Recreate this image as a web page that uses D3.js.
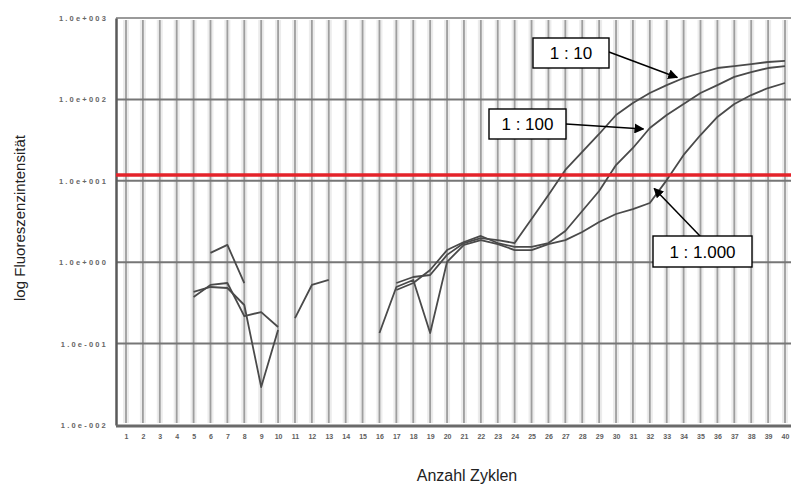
<!DOCTYPE html>
<html>
<head>
<meta charset="utf-8">
<script src="https://cdn.jsdelivr.net/npm/d3@7"></script>
<style>
  html, body { margin: 0; padding: 0; background: #fff; }
  svg { display: block; }
</style>
</head>
<body>
<svg id="chart" width="791" height="485"></svg>
<script>
// PCR cycles 1..40
const cycles = d3.range(1, 41);

// Fluorescence per cycle for each dilution (null = no reading)
const dil10 = [null, null, null, null, 0.374, 0.525, 0.555, 0.218, 0.244, 0.160,
  null, null, null, null, null, null, 0.555, 0.658, 0.696, 1.23,
  1.72, 1.98, 1.87, 1.72, 3.39, 6.69, 13.6, 22.6, 37.6, 64.3,
  90.3, 120, 150, 183, 211, 243, 257, 272, 288, 297];

const dil100 = [null, null, null, null, 0.431, 0.496, 0.482, 0.298, 0.0293, 0.147,
  null, null, null, null, null, null, 0.456, 0.555, 0.802, 1.41,
  1.77, 2.10, 1.72, 1.54, 1.54, 1.72, 2.42, 4.26, 7.49, 15.6,
  25.3, 44.5, 64.3, 87.8, 120, 150, 189, 217, 243, 257];

const dil1000 = [null, null, null, null, null, 1.30, 1.63, 0.555, null, null,
  0.206, 0.525, 0.605, null, null, 0.135, 0.496, 0.605, 0.135, 1.01,
  1.63, 1.87, 1.67, 1.41, 1.41, 1.67, 1.87, 2.35, 3.12, 3.91,
  4.50, 5.34, 10.2, 20.8, 36.5, 60.8, 87.8, 113, 138, 159];

const seriesNames = ["1 : 10", "1 : 100", "1 : 1.000"];
const seriesValues = [dil10, dil100, dil1000];

// Threshold line
const threshold = 11.8;

// Y tick values and their labels
const yTicks = [0.01, 0.1, 1, 10, 100, 1000];
const yTickLabels = ["1.0e-002", "1.0e-001", "1.0e+000", "1.0e+001", "1.0e+002", "1.0e+003"];

// Label callouts: which series, which cycle the arrow points at
const callouts = [
  { series: 0, cycle: 33.8, box: [533, 38, 76, 30], from: [609, 52], dx: -3, dy: -2 },
  { series: 1, cycle: 31.8, box: [489, 109, 77, 30], from: [566, 124], dx: -3, dy: -3 },
  { series: 2, cycle: 32.2, box: [653, 236, 99, 31], from: [700, 236], dx: 1, dy: -10 }
];

const svg = d3.select("#chart");
const plot = { left: 116, right: 791, top: 18, bottom: 425 };

const x = d3.scaleLinear().domain([1, 40]).range([126, 785]);
const y = d3.scaleLog().domain([0.01, 1000]).range([plot.bottom, plot.top]);

// vertical grid, one line per cycle (soft band + line)
const gv = svg.append("g");
gv.selectAll("line.band")
  .data(cycles)
  .join("line")
  .attr("class", "band")
  .attr("x1", d => x(d)).attr("x2", d => x(d))
  .attr("y1", plot.top + 2).attr("y2", plot.bottom - 2)
  .attr("stroke", "#ececec")
  .attr("stroke-width", 6);
gv.selectAll("line.grid")
  .data(cycles)
  .join("line")
  .attr("class", "grid")
  .attr("x1", d => x(d)).attr("x2", d => x(d))
  .attr("y1", plot.top + 2).attr("y2", plot.bottom - 2)
  .attr("stroke", "#9e9e9e")
  .attr("stroke-width", 1.8);

// horizontal decade grid
svg.append("g")
  .selectAll("line")
  .data(yTicks.slice(1, -1))
  .join("line")
  .attr("x1", plot.left).attr("x2", plot.right)
  .attr("y1", d => y(d)).attr("y2", d => y(d))
  .attr("stroke", "#767676")
  .attr("stroke-width", 2);

// top border
svg.append("line")
  .attr("x1", plot.left).attr("x2", plot.right)
  .attr("y1", plot.top).attr("y2", plot.top)
  .attr("stroke", "#9a9a9a").attr("stroke-width", 2);

// axes
const yAxis = d3.axisLeft(y)
  .tickValues(yTicks)
  .tickFormat((d, i) => yTickLabels[i])
  .tickSize(0)
  .tickPadding(8);

const gy = svg.append("g")
  .attr("transform", `translate(${plot.left},0)`)
  .call(yAxis);
gy.select(".domain").attr("stroke", "#5a5a5a").attr("stroke-width", 2.5);
gy.selectAll("text")
  .attr("font-family", "Liberation Sans, Arial, sans-serif")
  .attr("font-size", 7.5)
  .attr("font-weight", "bold")
  .attr("letter-spacing", 2.2)
  .attr("fill", "#666");

const xAxis = d3.axisBottom(x)
  .tickValues(cycles)
  .tickFormat(d3.format("d"))
  .tickSize(0)
  .tickPadding(8);

const gx = svg.append("g")
  .attr("transform", `translate(0,${plot.bottom + 1})`)
  .call(xAxis);
gx.select(".domain")
  .attr("d", `M${plot.left},0H${plot.right}`)
  .attr("stroke", "#6a6a6a").attr("stroke-width", 3);
gx.selectAll("text")
  .attr("font-family", "Liberation Sans, Arial, sans-serif")
  .attr("font-size", 7)
  .attr("font-weight", "bold")
  .attr("fill", "#5e5e5e");

// amplification curves
const line = d3.line()
  .defined(d => d.v != null)
  .x(d => x(d.c))
  .y(d => y(d.v));

svg.append("g")
  .selectAll("path")
  .data(seriesValues)
  .join("path")
  .attr("d", vals => line(vals.map((v, i) => ({ c: cycles[i], v }))))
  .attr("fill", "none")
  .attr("stroke", "#4a4a4a")
  .attr("stroke-width", 1.8)
  .attr("stroke-linejoin", "round");

// threshold
svg.append("line")
  .attr("x1", plot.left).attr("x2", plot.right)
  .attr("y1", y(threshold)).attr("y2", y(threshold))
  .attr("stroke", "#e4232a")
  .attr("stroke-width", 3.5);

// axis titles
svg.append("text")
  .attr("transform", "translate(25,218) rotate(-90)")
  .attr("text-anchor", "middle")
  .attr("font-family", "Liberation Sans, Arial, sans-serif")
  .attr("font-size", 15)
  .attr("fill", "#222")
  .text("log Fluoreszenzintensität");

svg.append("text")
  .attr("x", 467).attr("y", 481)
  .attr("text-anchor", "middle")
  .attr("font-family", "Liberation Sans, Arial, sans-serif")
  .attr("font-size", 16)
  .attr("fill", "#222")
  .text("Anzahl Zyklen");

// callouts with arrows
const defs = svg.append("defs");
defs.append("marker")
  .attr("id", "arrowhead")
  .attr("viewBox", "0 0 10 10")
  .attr("refX", 9).attr("refY", 5)
  .attr("markerWidth", 10).attr("markerHeight", 10)
  .attr("markerUnits", "userSpaceOnUse")
  .attr("orient", "auto")
  .append("path")
  .attr("d", "M0,0L10,5L0,10Z")
  .attr("fill", "#000");

// position on a curve at a fractional cycle (log interpolation)
function pointOn(vals, c) {
  const i = Math.floor(c) - 1;
  const t = c - Math.floor(c);
  const a = Math.log10(vals[i]), b = Math.log10(vals[i + 1]);
  return [x(c), y(Math.pow(10, a + (b - a) * t))];
}

const gc = svg.append("g");
callouts.forEach(co => {
  const tip = pointOn(seriesValues[co.series], co.cycle);
  gc.append("line")
    .attr("x1", co.from[0]).attr("y1", co.from[1])
    .attr("x2", tip[0] + co.dx).attr("y2", tip[1] + co.dy)
    .attr("stroke", "#000")
    .attr("stroke-width", 1.5)
    .attr("marker-end", "url(#arrowhead)");
  const [bx, by, bw, bh] = co.box;
  gc.append("rect")
    .attr("x", bx).attr("y", by).attr("width", bw).attr("height", bh)
    .attr("fill", "#fff").attr("stroke", "#000").attr("stroke-width", 1.4);
  gc.append("text")
    .attr("x", bx + bw / 2).attr("y", by + bh / 2 + 6)
    .attr("text-anchor", "middle")
    .attr("font-family", "Liberation Sans, Arial, sans-serif")
    .attr("font-size", 17)
    .attr("fill", "#000")
    .text(seriesNames[co.series]);
});
</script>
</body>
</html>
